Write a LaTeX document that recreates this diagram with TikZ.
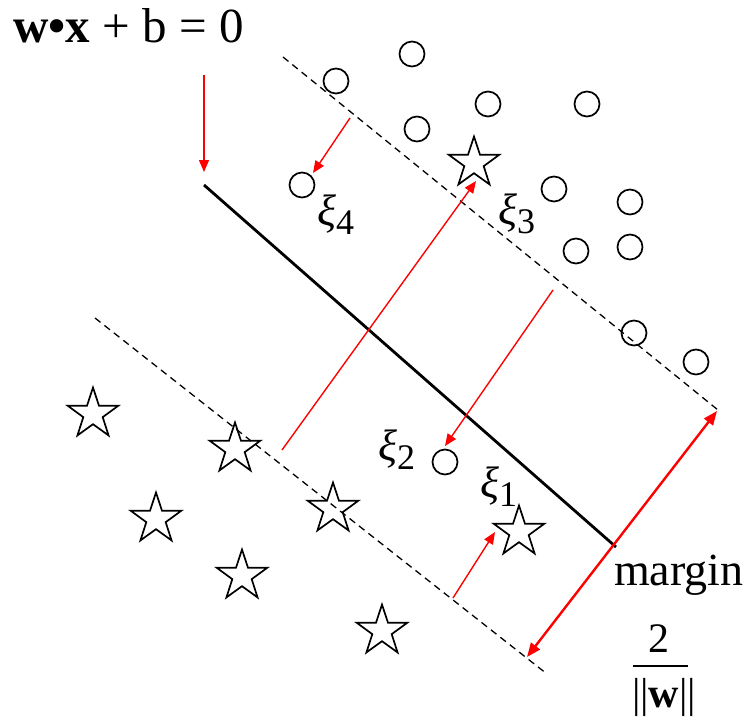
\documentclass[tikz,border=0pt]{standalone}
\usepackage{fontspec}
\setmainfont{Liberation Serif}
\usetikzlibrary{arrows.meta,shapes.geometric}
\begin{document}
\begin{tikzpicture}[x=1pt,y=-1pt,
  dot/.style={circle,draw,line width=1.7pt,minimum width=24pt,minimum height=25pt,inner sep=0pt},
  pstar/.style={star,star points=5,star point ratio=2.6,draw,line width=1.7pt,minimum size=53pt,inner sep=0pt},
  dashline/.style={line width=1.3pt,dash pattern=on 7pt off 5pt},
  hyper/.style={line width=2.8pt},
  redarrow/.style={red,line width=1.4pt,-{Triangle[length=12pt,width=10pt]}},
  marginarrow/.style={red,line width=2.4pt,{Triangle[length=14pt,width=11pt]}-{Triangle[length=14pt,width=11pt]}},
  xi/.style={anchor=base west,inner sep=0pt,font=\fontsize{44}{44}\selectfont},
  lbl/.style={inner sep=0pt}]
\useasboundingbox (0,0) rectangle (750,725);
% title
\node[lbl,anchor=base west,font=\fontsize{49}{49}\selectfont] (title) at (13,43) {\textbf{w•x} + b = 0};
\coordinate (tA) at (204,75);
\coordinate (tB) at (204,172);
\draw[redarrow] (tA) -- (tB);
% lines
\coordinate (uS) at (283,57);
\coordinate (uE) at (718,410);
\coordinate (lS) at (95,318);
\coordinate (lE) at (547,674);
\coordinate (hS) at (204,185);
\coordinate (hE) at (616,547);
\draw[dashline] (uS) -- (uE);
\draw[dashline] (lS) -- (lE);
\draw[hyper] (hS) -- (hE);
% red arrows
\coordinate (a4s) at (350,118);
\coordinate (a4e) at (313,173);
\coordinate (a3s) at (282,450);
\coordinate (a3e) at (476,181);
\coordinate (a2s) at (553,290);
\coordinate (a2e) at (445,446);
\coordinate (a1s) at (453,598);
\coordinate (a1e) at (495,532);
\draw[redarrow] (a4s) -- (a4e);
\draw[redarrow] (a3s) -- (a3e);
\draw[redarrow] (a2s) -- (a2e);
\draw[redarrow] (a1s) -- (a1e);
\coordinate (mA) at (717,411);
\coordinate (mB) at (527,657);
\draw[marginarrow] (mA) -- (mB);
% circles
\node[dot] (c1) at (412,54) {};
\node[dot] (c2) at (336,81) {};
\node[dot] (c3) at (488,104) {};
\node[dot] (c4) at (587,104) {};
\node[dot] (c5) at (417,129) {};
\node[dot] (c6) at (302,185) {};
\node[dot] (c7) at (554,189) {};
\node[dot] (c8) at (630,202) {};
\node[dot] (c9) at (576,251) {};
\node[dot] (c10) at (630,247) {};
\node[dot] (c11) at (634,333) {};
\node[dot] (c12) at (696,362) {};
\node[dot] (c13) at (445,462) {};
% stars
\node[pstar] (s1) at (474,163) {};
\node[pstar] (s2) at (93,414) {};
\node[pstar] (s3) at (235,449) {};
\node[pstar] (s4) at (156,519) {};
\node[pstar] (s5) at (333,509) {};
\node[pstar] (s6) at (242,576) {};
\node[pstar] (s7) at (382,631) {};
\node[pstar] (s8) at (519,532) {};
% xi labels
\node[xi] (x4) at (317,225) {\textit{ξ}\raisebox{-9pt}{\fontsize{36}{36}\selectfont 4}};
\node[xi] (x3) at (498,224) {\textit{ξ}\raisebox{-9pt}{\fontsize{36}{36}\selectfont 3}};
\node[xi] (x2) at (378,460) {\textit{ξ}\raisebox{-9pt}{\fontsize{36}{36}\selectfont 2}};
\node[xi] (x1) at (480,497) {\textit{ξ}\raisebox{-9pt}{\fontsize{36}{36}\selectfont 1}};
% margin
\node[lbl,anchor=base west,font=\fontsize{46}{46}\selectfont] (margin) at (614,585) {margin};
\node[lbl,anchor=base,font=\fontsize{42}{42}\selectfont] (two) at (659,652) {2};
\coordinate (fbA) at (633,666);
\coordinate (fbB) at (688,666);
\draw[line width=2pt] (fbA) -- (fbB);
\node[lbl,anchor=base,font=\fontsize{42}{42}\selectfont] (norm) at (664,707) {||\textbf{w}||};
\end{tikzpicture}
\end{document}
